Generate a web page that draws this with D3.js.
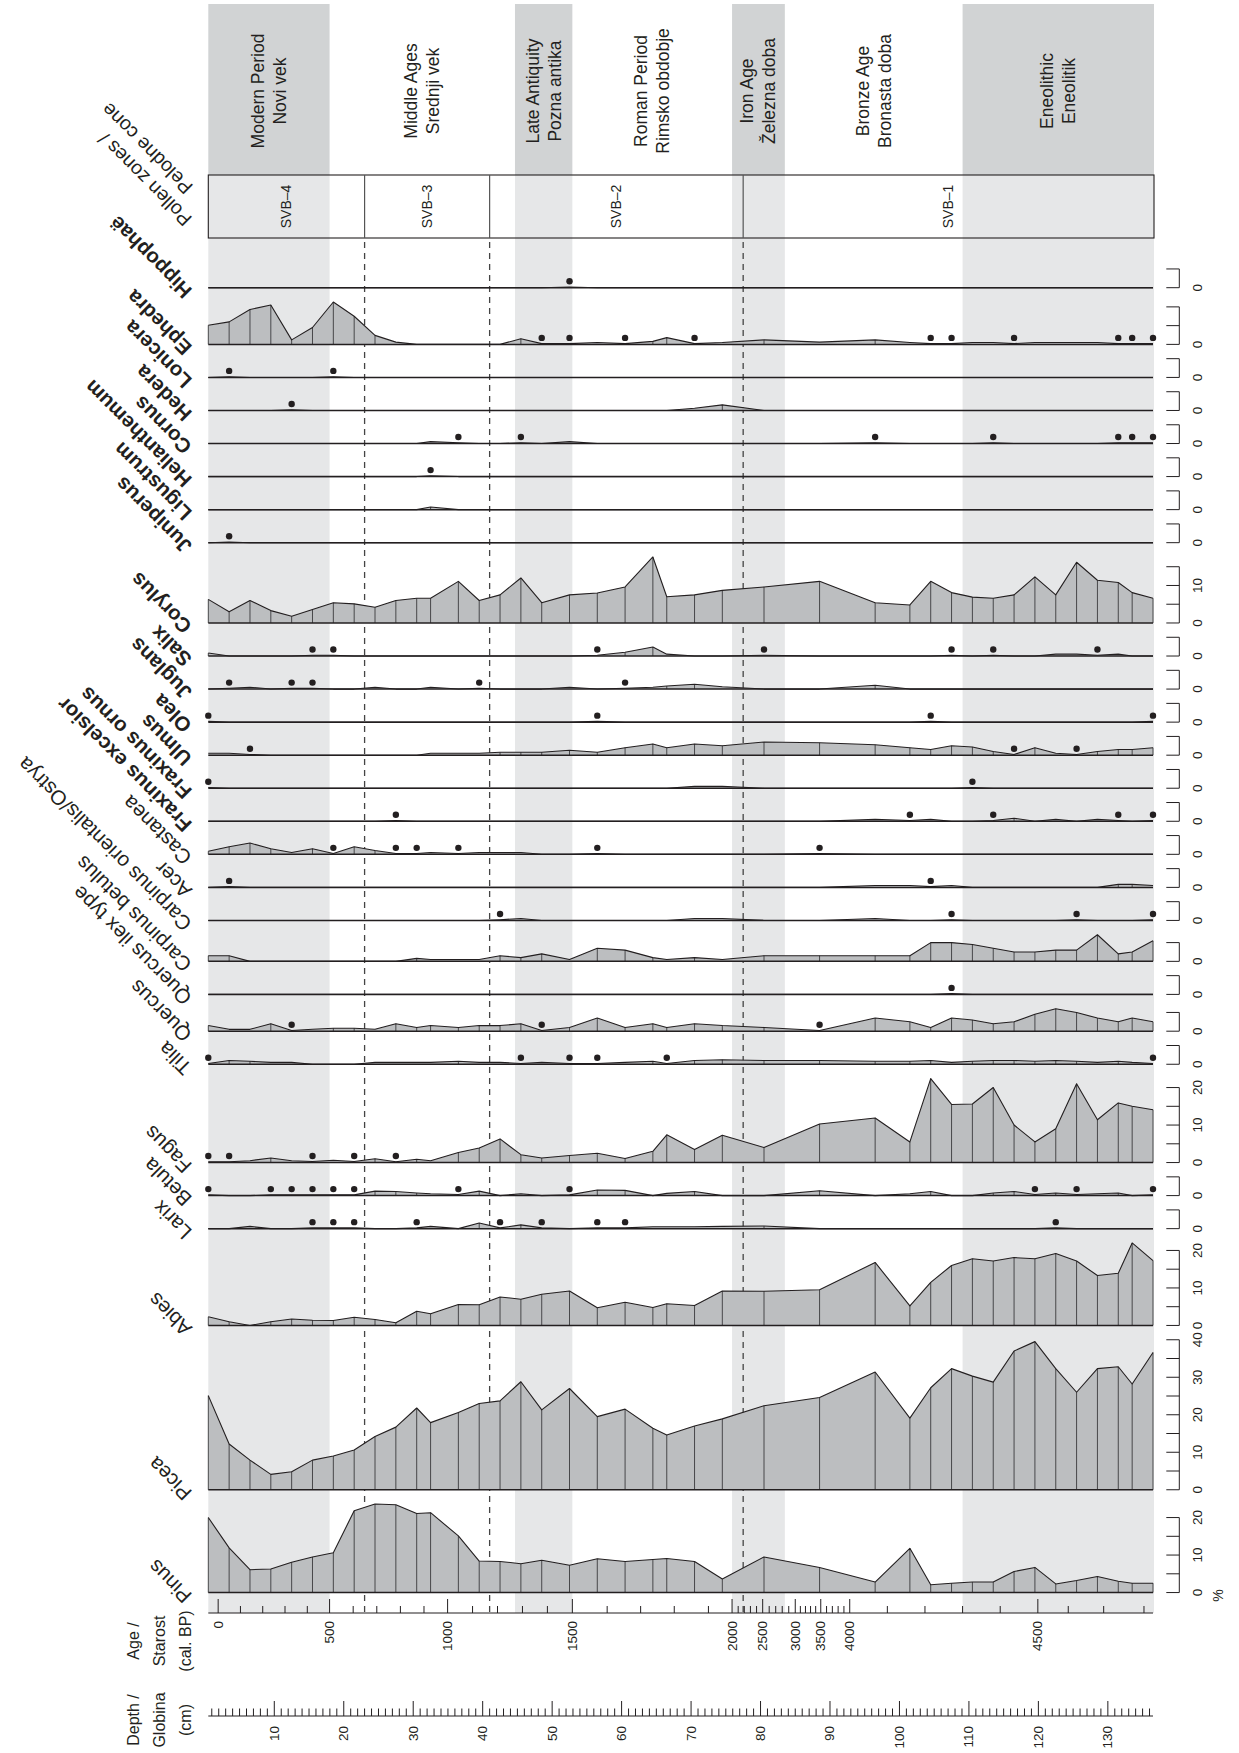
<!DOCTYPE html>
<html><head><meta charset="utf-8">
<script src="https://cdn.jsdelivr.net/npm/d3@7"></script>
<style>
body{margin:0;background:#fff}
svg{display:block}
text{font-family:"Liberation Sans",Arial,Helvetica,sans-serif;fill:#231f20}
</style></head>
<body><svg id="c" width="1239" height="1753"></svg>
<script>
// ---------------- DATA ----------------
const depths = [0.5,3.5,6.5,9.5,12.5,15.5,18.5,21.5,24.5,27.5,30.5,32.5,36.5,39.5,42.5,45.5,48.5,52.5,56.5,60.5,64.5,66.5,70.5,74.5,80.5,88.5,96.5,101.5,104.5,107.5,110.5,113.5,116.5,119.5,122.5,125.5,128.5,131.5,133.5,136.5];

const taxonNames = ["Hippophaë","Ephedra","Lonicera","Hedera","Cornus","Helianthemum","Ligustrum","Juniperus","Corylus","Salix","Juglans","Olea","Ulmus","Fraxinus ornus","Fraxinus excelsior","Castanea","Acer","Carpinus orientalis/Ostrya","Carpinus betulus","Quercus ilex type","Quercus","Tilia","Fagus","Betula","Larix","Abies","Picea","Pinus"];

const pHippophae = [0,0,0,0,0,0,0,0,0,0, 0,0,0,0,0,0,0,0.2,0,0, 0,0,0,0,0,0,0,0,0,0, 0,0,0,0,0,0,0,0,0,0];
const pEphedra = [5.1,6.0,9.3,10.5,1.2,4.5,11.3,7.5,2.4,0.6, 0,0,0,0,0,1.5,0.2,0.2,0.5,0.2, 0.8,1.8,0.2,0.5,1.2,0.6,1.2,0.5,0.2,0.2, 0.5,0.5,0.2,0.5,0.5,0.5,0.5,0.2,0.2,0.2];
const pLonicera = [0,0.2,0,0,0,0,0.2,0,0,0, 0,0,0,0,0,0,0,0,0,0, 0,0,0,0,0,0,0,0,0,0, 0,0,0,0,0,0,0,0,0,0];
const pHedera = [0,0,0,0,0.2,0,0,0,0,0, 0,0,0,0,0,0,0,0,0,0, 0,0,0.6,1.5,0,0,0,0,0,0, 0,0,0,0,0,0,0,0,0,0];
const pCornus = [0,0,0,0,0,0,0,0,0,0, 0,0.5,0.2,0,0,0.2,0,0.5,0,0, 0,0,0,0,0,0,0.2,0,0,0, 0,0.2,0,0,0,0,0,0.2,0.2,0.2];
const pHelianthemum = [0,0,0,0,0,0,0,0,0,0, 0,0.2,0,0,0,0,0,0,0,0, 0,0,0,0,0,0,0,0,0,0, 0,0,0,0,0,0,0,0,0,0];
const pLigustrum = [0,0,0,0,0,0,0,0,0,0, 0,0.7,0,0,0,0,0,0,0,0, 0,0,0,0,0,0,0,0,0,0, 0,0,0,0,0,0,0,0,0,0];
const pJuniperus = [0,0.2,0,0,0,0,0,0,0,0, 0,0,0,0,0,0,0,0,0,0, 0,0,0,0,0,0,0,0,0,0, 0,0,0,0,0,0,0,0,0,0];
const pCorylus = [6.3,3.0,6.0,3.3,1.8,3.6,5.4,5.1,4.2,6.0, 6.6,6.6,11.1,6.0,7.5,12.0,5.4,7.5,8.0,9.6, 17.6,7.0,7.5,8.7,9.6,11.1,5.4,4.8,11.1,8.1, 6.9,6.6,7.5,12.3,7.5,16.2,11.4,10.8,8.1,6.6];
const pSalix = [0.8,0,0,0,0,0.2,0.2,0,0,0, 0,0,0,0,0,0,0,0,0.2,1.0, 2.4,0.5,0,0,0.2,0,0,0,0,0.2, 0,0.2,0,0,0.5,0.5,0.2,0.5,0,0];
const pJuglans = [0,0.2,0.5,0,0.2,0.2,0,0,0.5,0, 0,0.5,0,0.2,0,0,0,0.5,0,0.2, 0.5,0.8,1.3,0.6,0,0,1.0,0,0,0, 0,0,0,0,0,0,0,0,0,0];
const pOlea = [0.2,0,0,0,0,0,0,0,0,0, 0,0,0,0,0,0,0,0,0.2,0, 0,0,0,0,0,0,0,0,0.2,0, 0,0,0,0,0,0,0,0,0,0.2];
const pUlmus = [0.5,0.5,0.2,0,0,0,0,0,0,0, 0,0.5,0.5,0.5,0.8,0.8,0.8,1.3,0.8,2.0, 3.0,2.0,3.0,2.5,3.5,3.3,2.8,2.0,1.5,2.5, 2.2,1.0,0.2,2.0,0.5,0.2,1.0,1.5,1.5,2.0];
const pFraxOrnus = [0.2,0,0,0,0,0,0,0,0,0, 0,0,0,0,0,0,0,0,0,0, 0,0,0.5,0.5,0,0,0,0,0,0, 0.2,0,0,0,0,0,0,0,0,0];
const pFraxExc = [0,0,0,0,0,0,0,0,0,0.2, 0,0,0,0,0,0,0,0,0,0, 0,0,0,0,0,0,0.5,0.2,0.5,0, 0,0.2,0.8,0,0.5,0,0.5,0.2,0,0.2];
const pCastanea = [0.8,2.0,3.0,1.5,0.5,1.5,0.2,2.0,1.0,0.2, 0.2,0.5,0.2,0.5,0.5,0.5,0,0,0.2,0, 0,0,0,0,0,0.2,0,0,0,0, 0,0,0,0,0,0,0,0,0,0];
const pAcer = [0,0.2,0,0,0,0,0,0,0,0, 0,0,0,0,0,0,0,0,0,0, 0,0,0,0,0,0,0.5,0.5,0.2,0.5, 0,0,0,0,0,0,0,0.8,0.8,0.5];
const pCarpOr = [0,0,0,0,0,0,0,0,0,0, 0,0,0,0,0.2,0.5,0,0,0,0, 0,0,0.5,0.5,0,0,0.5,0,0,0.2, 0,0,0,0,0,0.2,0,0,0,0.2];
const pCarpBet = [1.5,1.5,0,0,0,0,0,0,0,0, 0.8,0.5,0.5,0.5,1.5,1.0,2.0,0.5,3.5,3.0, 1.0,0.5,1.0,0.5,1.5,1.5,1.5,1.5,5.0,5.0, 4.5,3.5,2.5,2.5,3.0,3.0,7.1,2.0,2.5,5.5];
const pQuercIlex = [0,0,0,0,0,0,0,0,0,0, 0,0,0,0,0,0,0,0,0,0, 0,0,0,0,0,0,0,0,0,0.2, 0,0,0,0,0,0,0,0,0,0];
const pQuercus = [1.5,0.5,0.5,2.0,0.2,0.5,0.8,0.8,0.5,2.0, 1.0,1.5,1.0,1.5,1.5,2.0,0.2,1.0,3.5,1.0, 2.0,1.0,2.0,1.5,1.0,0.2,3.5,2.5,1.0,3.5, 3.0,2.0,2.5,4.5,6.0,5.0,3.5,2.5,3.5,2.5];
const pTilia = [0.2,1.0,0.8,0.5,0.5,0,0,0,0.5,0.5, 0.5,0.5,0.8,0.5,0.5,0.2,0.5,0.2,0.2,0.5, 0.8,0.2,1.0,1.2,1.0,1.0,0.8,0.8,1.0,0.5, 0.8,1.0,1.0,0.8,1.0,0.8,0.5,0.8,0.5,0.2];
const pFagus = [0.2,0.2,0.5,1.2,0.5,0.3,0.6,0.3,1.0,0.2, 0.9,0.5,2.7,3.9,6.3,2.1,1.2,1.9,2.5,1.1, 3.0,7.4,3.5,7.3,4.0,10.3,11.9,5.5,22.4,15.5, 15.6,20.0,10.0,5.5,9.0,21.0,11.4,15.9,15.0,14.1];
const pBetula = [0.2,0,0,0.2,0.2,0.2,0.2,0.2,1.2,1.1, 0.7,0.5,0.3,1.2,0,0.5,0,0.2,1.5,1.4, 0,0.6,1.1,0,0,1.3,0,0.5,1.1,0, 0,0.7,1.1,0.3,0.7,0.3,0.5,0.7,0,0.2];
const pLarix = [0,0,0.6,0,0,0.2,0.2,0.2,0,0, 0.2,0.6,0,1.5,0.2,1.0,0.2,0,0.2,0.2, 0.5,0.5,0.5,0.6,0.7,0,0,0,0,0, 0,0,0,0,0.2,0,0,0,0,0];
const pAbies = [2.3,1.0,0,1.0,1.7,1.4,1.3,2.2,1.6,0.7, 3.8,3.1,5.6,5.5,7.6,7.0,8.3,9.2,4.7,6.2, 4.8,5.8,5.3,9.2,9.1,9.5,16.8,5.2,11.5,16.0, 17.8,17.2,18.1,17.8,19.2,17.2,13.3,13.9,22.0,17.3];
const pPicea = [25.1,12.2,7.9,4.1,4.8,7.9,9.0,10.6,14.2,16.7, 21.8,17.9,20.6,23.0,23.7,28.8,21.3,27.0,19.5,21.5, 16.4,14.6,17.0,18.9,22.4,24.6,31.4,19.1,27.2,32.3, 30.3,28.7,37.0,39.5,32.3,26.0,32.3,32.8,28.2,36.6];
const pPinus = [20.0,11.9,6.1,6.3,8.1,9.5,10.6,21.8,23.6,23.4, 21.1,21.3,15.1,8.4,8.3,7.7,8.6,7.3,9.0,8.3, 8.8,9.1,8.3,3.6,9.5,6.7,2.8,11.8,2.1,2.5, 2.8,2.8,5.6,6.7,2.3,3.2,4.3,3.0,2.5,2.5];

const taxonValues = [pHippophae,pEphedra,pLonicera,pHedera,pCornus,pHelianthemum,pLigustrum,pJuniperus,pCorylus,pSalix,pJuglans,pOlea,pUlmus,pFraxOrnus,pFraxExc,pCastanea,pAcer,pCarpOr,pCarpBet,pQuercIlex,pQuercus,pTilia,pFagus,pBetula,pLarix,pAbies,pPicea,pPinus];
const axisMax = [5,10,5,5,5,5,5,5,15,5,5,5,5,5,5,5,5,5,5,5,5,5,20,5,5,20,40,20];

// age-depth model (cal. BP -> depth cm) and age ticks
const ageModelAge   = [0,500,1000,1500,1600,1700,1800,1900,2000,2500,3000,3500,4000,4500,4600,4700,4800];
const ageModelDepth = [1.92,17.96,34.95,52.91,57.92,62.74,67.58,72.5,75.9,80.31,85.0,88.67,92.84,119.92,124.3,129.4,135.2];
const ageLabels = [0,500,1000,1500,2000,2500,3000,3500,4000,4500];

// cultural periods (cal. BP)
const periodEn = ["Modern Period","Middle Ages","Late Antiquity","Roman Period","Iron Age","Bronze Age","Eneolithic"];
const periodSl = ["Novi vek","Srednji vek","Pozna antika","Rimsko obdobje","Železna doba","Bronasta doba","Eneolitik"];
const periodStart = [null,500,1270,1500,2000,2840,4300];
const periodEnd   = [500,1270,1500,2000,2840,4300,null];
const periodShaded = [true,false,true,false,true,false,true];

// pollen zones (depth cm)
const zoneNames = ["SVB–4","SVB–3","SVB–2","SVB–1"];
const zoneTop = [0.5,23,41,77.5];
const zoneBottom = [23,41,77.5,136.5];

// ---------------- DRAWING ----------------
const svg = d3.select("#c");
const ink = "#231f20";
const k = 3.75, gap = 14.3;
const x = d3.scaleLinear().domain([0.5,136.5]).range([208.3,1153]);
const ageToDepth = d3.scaleLinear().domain(ageModelAge).range(ageModelDepth);
const xAge = a => x(ageToDepth(a));
const dMin = 0.5, dMax = 136.5;

const headTop = 4, headBot = 175, zoneBot = 238, topPad = 16.65;
const ageAxisY = 1613, depthAxisY = 1716;

// period bands
const periods = periodEn.map((n,i)=>({
  en:n, sl:periodSl[i], shaded:periodShaded[i],
  x0: periodStart[i]==null ? x(dMin) : xAge(periodStart[i]),
  x1: periodEnd[i]==null ? x(dMax)+1 : xAge(periodEnd[i])
}));
const bg = svg.append("g");
periods.filter(p=>p.shaded).forEach(p=>{
  bg.append("rect").attr("x",p.x0).attr("y",headTop).attr("width",p.x1-p.x0).attr("height",headBot-headTop).attr("fill","#d1d3d4");
  bg.append("rect").attr("x",p.x0).attr("y",headBot).attr("width",p.x1-p.x0).attr("height",ageAxisY-headBot).attr("fill","#e6e7e8");
});
periods.forEach(p=>{
  const cx = (p.x0+p.x1)/2, cy = 91;
  [p.en,p.sl].forEach((t,j)=>{
    bg.append("text").attr("transform",`translate(${cx+(j?11:-11)},${cy}) rotate(-90)`)
      .attr("text-anchor","middle").attr("dominant-baseline","central")
      .style("font-size","17.5px").text(t);
  });
});

// zone box
const zg = svg.append("g");
zg.append("rect").attr("x",x(dMin)).attr("y",headBot).attr("width",x(dMax)+1-x(dMin)).attr("height",zoneBot-headBot)
  .attr("fill","none").attr("stroke",ink).attr("stroke-width",1.1);
zoneNames.forEach((z,i)=>{
  const x0 = x(zoneTop[i]), x1 = x(zoneBottom[i]);
  if(i>0) zg.append("line").attr("x1",x0).attr("x2",x0).attr("y1",headBot).attr("y2",zoneBot).attr("stroke","#555").attr("stroke-width",1.2);
  zg.append("text").attr("transform",`translate(${(x0+x1)/2},${(headBot+zoneBot)/2}) rotate(-90)`)
    .attr("text-anchor","middle").attr("dominant-baseline","central").style("font-size","14px").text(z);
  if(i>0) zg.append("line").attr("x1",x0).attr("x2",x0).attr("y1",zoneBot+4).attr("y2",ageAxisY)
    .attr("stroke","#444").attr("stroke-width",1.3).attr("stroke-dasharray","6,5");
});

// pollen zone label
const pz = svg.append("text").attr("transform","translate(193,218) rotate(-135)").style("font-size","19.5px");
pz.append("tspan").attr("x",0).attr("dy",0).text("Pollen zones /");
pz.append("tspan").attr("x",22).attr("dy","1.2em").text("Pelodne cone");

// taxa rows
const rg = svg.append("g");
let yb = zoneBot + topPad;
const rows = taxonNames.map((name,i)=>{
  const vals = taxonValues[i];
  const top = Math.max(axisMax[i], d3.max(vals));
  yb += gap + top*k;
  const y = d3.scaleLinear().domain([0,top]).range([yb, yb-top*k]);
  return {name, vals, y, base:yb, i};
});
const boldSet = new Set(taxonNames.slice(0,15));

rows.forEach(r=>{
  const pts = depths.map((d,j)=>[d, r.vals[j]]);
  const area = d3.area().x(p=>x(p[0])).y0(r.base).y1(p=>r.y(p[1]));
  const line = d3.line().x(p=>x(p[0])).y(p=>r.y(p[1]));
  rg.append("path").attr("d",area(pts)).attr("fill","#bcbec0");
  rg.selectAll(null).data(pts.filter(p=>p[1]>0.6)).join("line")
    .attr("x1",p=>x(p[0])).attr("x2",p=>x(p[0])).attr("y1",r.base).attr("y2",p=>r.y(p[1]))
    .attr("stroke","#3a3a3c").attr("stroke-width",0.9);
  rg.append("path").attr("d",line(pts)).attr("fill","none").attr("stroke",ink).attr("stroke-width",1.1).attr("stroke-linejoin","round");
  rg.append("line").attr("x1",x(dMin)).attr("x2",x(dMax)).attr("y1",r.base).attr("y2",r.base).attr("stroke",ink).attr("stroke-width",1.5);
  rg.selectAll(null).data(pts.filter(p=>p[1]>0 && p[1]<0.45)).join("circle")
    .attr("cx",p=>x(p[0])).attr("cy",r.base-6.5).attr("r",3.2).attr("fill",ink);
  // label
  rg.append("text").attr("transform",`translate(193,${r.base+2}) rotate(-135)`)
    .style("font-size","20.5px").style("font-weight",boldSet.has(r.name)?"bold":"normal").text(r.name);
  // right bracket axis
  const am = axisMax[r.i];
  const ticks = d3.range(0, am+0.001, 5);
  const axX = 1179.3;
  rg.append("line").attr("x1",axX).attr("x2",axX).attr("y1",r.y(0)).attr("y2",r.y(am)).attr("stroke",ink).attr("stroke-width",1);
  ticks.forEach(t=>{
    rg.append("line").attr("x1",axX-13).attr("x2",axX).attr("y1",r.y(t)).attr("y2",r.y(t)).attr("stroke",ink).attr("stroke-width",1);
    if(t===0 || (am>=15 && t%10===0))
      rg.append("text").attr("transform",`translate(1197,${r.y(t)}) rotate(-90)`)
        .attr("text-anchor","middle").attr("dominant-baseline","central").style("font-size","13.5px").text(t);
  });
});
svg.append("text").attr("transform",`translate(1218,${rows[rows.length-1].base+3}) rotate(-90)`)
  .attr("text-anchor","middle").attr("dominant-baseline","central").style("font-size","14px").text("%");

// age axis
const ag = svg.append("g");
ag.append("line").attr("x1",x(dMin)).attr("x2",x(dMax)).attr("y1",ageAxisY).attr("y2",ageAxisY).attr("stroke",ink).attr("stroke-width",1.2);
d3.range(0,4801,100).forEach(a=>{
  const major = a%500===0;
  ag.append("line").attr("x1",xAge(a)).attr("x2",xAge(a)).attr("y1",ageAxisY).attr("y2",ageAxisY-(major?14:7)).attr("stroke",ink).attr("stroke-width",1);
});
ageLabels.forEach(a=>{
  ag.append("text").attr("transform",`translate(${xAge(a)},${ageAxisY+8}) rotate(-90)`)
    .attr("text-anchor","end").attr("dominant-baseline","central").style("font-size","13.5px").text(a);
});
["Age /","Starost","(cal. BP)"].forEach((t,j)=>{
  ag.append("text").attr("transform",`translate(${133+j*26},1641) rotate(-90)`)
    .attr("text-anchor","middle").attr("dominant-baseline","central").style("font-size","16px").text(t);
});

// depth axis
const dg = svg.append("g");
dg.append("line").attr("x1",x(dMin)).attr("x2",x(dMax)).attr("y1",depthAxisY).attr("y2",depthAxisY).attr("stroke",ink).attr("stroke-width",1.2);
d3.range(1,137,1).forEach(d=>{
  const major = d%10===0;
  dg.append("line").attr("x1",x(d)).attr("x2",x(d)).attr("y1",depthAxisY).attr("y2",depthAxisY-(major?15:7.5)).attr("stroke",ink).attr("stroke-width",1);
});
d3.range(10,131,10).forEach(d=>{
  dg.append("text").attr("transform",`translate(${x(d)},${depthAxisY+10}) rotate(-90)`)
    .attr("text-anchor","end").attr("dominant-baseline","central").style("font-size","13.5px").text(d);
});
["Depth /","Globina","(cm)"].forEach((t,j)=>{
  dg.append("text").attr("transform",`translate(${133+j*26},1720) rotate(-90)`)
    .attr("text-anchor","middle").attr("dominant-baseline","central").style("font-size","16px").text(t);
});
</script></body></html>
